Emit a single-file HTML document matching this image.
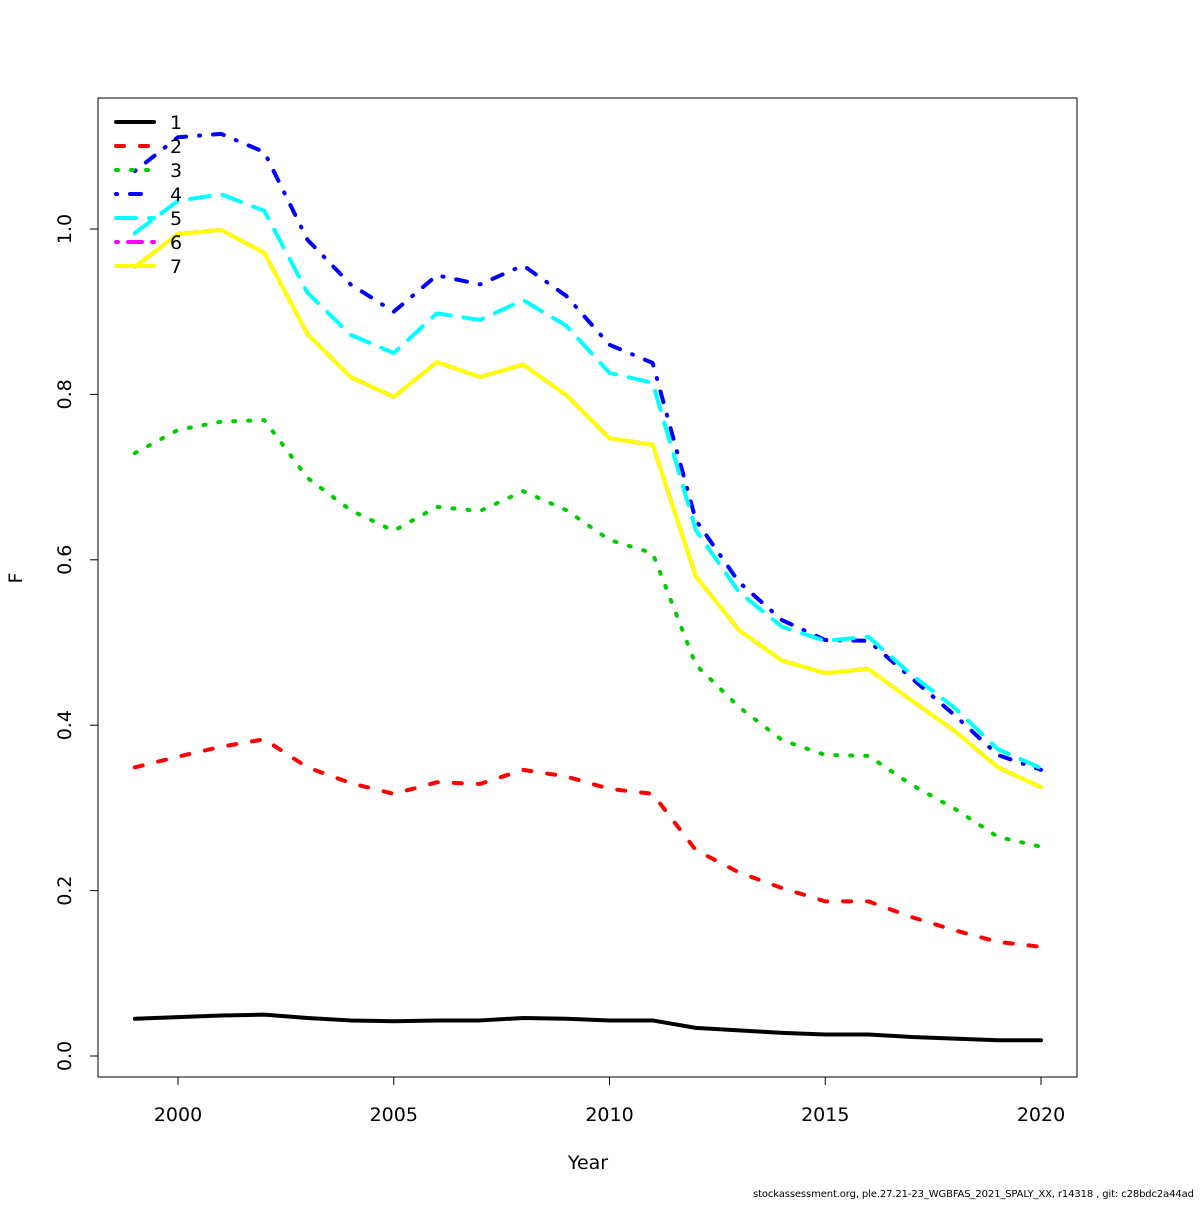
<!DOCTYPE html>
<html><head><meta charset="utf-8"><style>
body{margin:0;background:#fff}
svg text{font-family:"DejaVu Sans","Liberation Sans",sans-serif;fill:#000}
</style></head><body>
<svg width="1200" height="1200" xmlns="http://www.w3.org/2000/svg">
<rect width="1200" height="1200" fill="#fff"/>
<rect x="98" y="98" width="979" height="979" fill="none" stroke="#000" stroke-width="1"/>
<g id="axes"></g><g id="series"></g><g id="legend"></g>
<text x="588" y="1169" font-size="19" text-anchor="middle">Year</text>
<text x="22" y="578" font-size="19" text-anchor="middle" transform="rotate(-90 22 578)">F</text>
<text x="1194" y="1197" font-size="10" text-anchor="end" font-family="Liberation Sans" textLength="441">stockassessment.org, ple.27.21-23_WGBFAS_2021_SPALY_XX, r14318 , git: c28bdc2a44ad</text>
</svg>
<script>
const years=[1999,2000,2001,2002,2003,2004,2005,2006,2007,2008,2009,2010,2011,2012,2013,2014,2015,2016,2017,2018,2019,2020];
const age1=[0.045,0.047,0.049,0.050,0.046,0.043,0.042,0.043,0.043,0.046,0.045,0.043,0.043,0.034,0.031,0.028,0.026,0.026,0.023,0.021,0.019,0.019];
const age2=[0.349,0.362,0.374,0.383,0.349,0.330,0.317,0.331,0.329,0.346,0.338,0.323,0.317,0.249,0.222,0.203,0.187,0.187,0.168,0.152,0.138,0.132];
const age3=[0.729,0.757,0.767,0.769,0.699,0.660,0.635,0.664,0.659,0.683,0.660,0.624,0.608,0.473,0.422,0.382,0.364,0.363,0.328,0.299,0.265,0.253];
const age4=[1.070,1.111,1.115,1.093,0.987,0.933,0.900,0.944,0.933,0.956,0.919,0.860,0.838,0.648,0.573,0.527,0.503,0.502,0.457,0.412,0.364,0.346];
const age5=[0.995,1.034,1.042,1.022,0.923,0.872,0.850,0.898,0.890,0.914,0.883,0.826,0.814,0.636,0.561,0.519,0.502,0.507,0.461,0.421,0.371,0.348];
const age6=[0.954,0.994,0.999,0.971,0.873,0.821,0.797,0.839,0.821,0.836,0.799,0.747,0.739,0.580,0.515,0.478,0.463,0.468,0.430,0.393,0.349,0.325];
const age7=[0.954,0.994,0.999,0.971,0.873,0.821,0.797,0.839,0.821,0.836,0.799,0.747,0.739,0.580,0.515,0.478,0.463,0.468,0.430,0.393,0.349,0.325];
const xTicks=[2000,2005,2010,2015,2020];
const yTicks=[0,0.2,0.4,0.6,0.8,1.0];
const yTickLabels=["0.0","0.2","0.4","0.6","0.8","1.0"];
const seriesNames=["1","2","3","4","5","6","7"];
const NS="http://www.w3.org/2000/svg";
const xs=y=>178+(y-2000)*(1041-178)/20;
const ys=v=>1056-v*827;
const styles=[["#000",""],["#ff0000","8 16"],["#00cd00","2 13"],["#0000ff","1 13 11 13"],["#00ffff","20 13"],["#ff00ff","2 10 14 10"],["#ffff00",""]];
const data=[age1,age2,age3,age4,age5,age6,age7];
function mk(t,a,p){const e=document.createElementNS(NS,t);for(const k in a)e.setAttribute(k,a[k]);p.appendChild(e);return e;}
const ax=document.getElementById('axes');
mk('line',{x1:xs(2000),x2:xs(2020),y1:1077,y2:1077,stroke:'#000'},ax);
xTicks.forEach(t=>{mk('line',{x1:xs(t),x2:xs(t),y1:1077,y2:1085,stroke:'#000'},ax);
const tx=mk('text',{x:xs(t),y:1121,'font-size':19,'text-anchor':'middle'},ax);tx.textContent=t;

});
mk('line',{x1:98,x2:98,y1:ys(0),y2:ys(1),stroke:'#000'},ax);
yTicks.forEach((t,i)=>{mk('line',{x1:90,x2:98,y1:ys(t),y2:ys(t),stroke:'#000'},ax);
const tx=mk('text',{x:71,y:ys(t),'font-size':19,'text-anchor':'middle',transform:`rotate(-90 71 ${ys(t)})`},ax);tx.textContent=yTickLabels[i];

});
const sg=document.getElementById('series');
data.forEach((d,i)=>{const pts=d.map((v,j)=>xs(years[j])+','+ys(v)).join(' ');
const pl=mk('polyline',{points:pts,fill:'none',stroke:styles[i][0],'stroke-width':4,'stroke-dasharray':styles[i][1],'stroke-linecap':'round','stroke-linejoin':'round'},sg);

});
const lg=document.getElementById('legend');
seriesNames.forEach((n,i)=>{const y=122+i*24;
const l=mk('line',{x1:116,x2:154,y1:y,y2:y,stroke:styles[i][0],'stroke-width':4,'stroke-dasharray':styles[i][1],'stroke-linecap':'round'},lg);


const t=mk('text',{x:170,y:y+7,'font-size':19},lg);t.textContent=n;

});
</script>
</body></html>
